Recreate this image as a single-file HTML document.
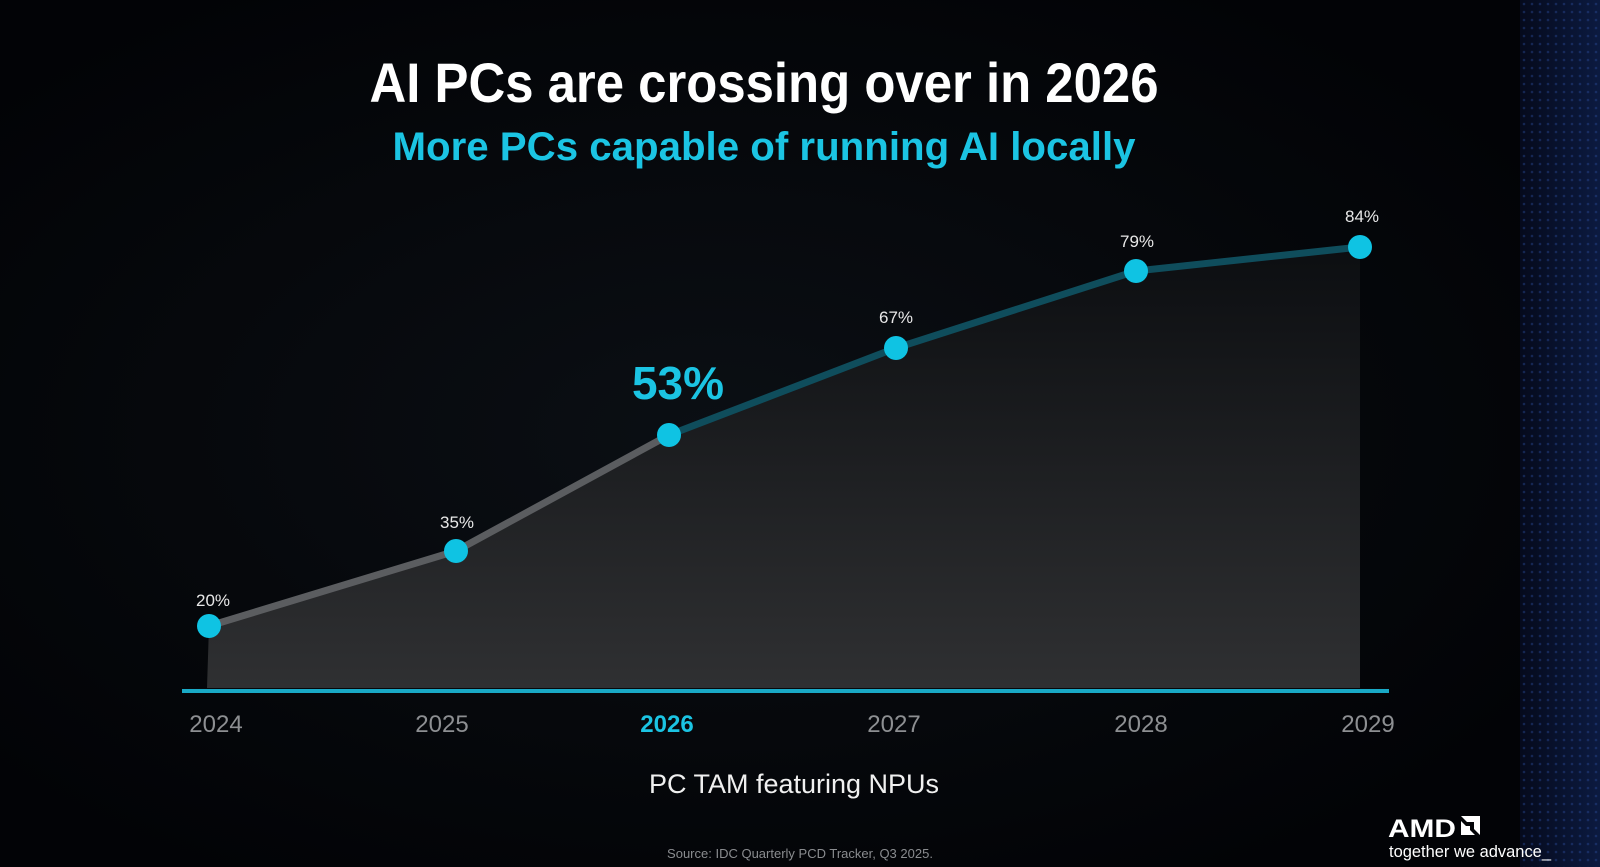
<!DOCTYPE html>
<html><head><meta charset="utf-8"><style>
html,body{margin:0;padding:0;background:#020306;width:1600px;height:867px;overflow:hidden}
svg{display:block}
text{font-family:"Liberation Sans",sans-serif}
</style></head><body>
<svg width="1600" height="867" viewBox="0 0 1600 867">
<defs>
<radialGradient id="bg" cx="0.45" cy="0.5" r="0.6">
<stop offset="0" stop-color="#0b0f14"/><stop offset="1" stop-color="#020306"/>
</radialGradient>
<linearGradient id="fill" x1="0" y1="247" x2="0" y2="688" gradientUnits="userSpaceOnUse">
<stop offset="0" stop-color="#0c0e11"/><stop offset="1" stop-color="#2f3032"/>
</linearGradient>
<linearGradient id="side" x1="0" y1="0" x2="1" y2="0">
<stop offset="0" stop-color="#050a1c"/><stop offset="1" stop-color="#0c1a40"/>
</linearGradient>
<pattern id="dots" width="8" height="8" patternUnits="userSpaceOnUse">
<circle cx="4" cy="4" r="1.3" fill="#2a4a9a" opacity="0.7"/>
</pattern>
</defs>
<rect width="1600" height="867" fill="url(#bg)"/>
<rect x="1520" y="0" width="80" height="867" fill="url(#side)"/>
<rect x="1520" y="0" width="80" height="867" fill="url(#dots)" opacity="0.6"/>
<text x="764" y="102" text-anchor="middle" font-size="56" font-weight="bold" fill="#fff" textLength="789" lengthAdjust="spacingAndGlyphs">AI PCs are crossing over in 2026</text>
<text x="764" y="160" text-anchor="middle" font-size="40" font-weight="bold" fill="#1bc4e3" textLength="743" lengthAdjust="spacingAndGlyphs">More PCs capable of running AI locally</text>
<polygon points="209,626 456,551 669,435 896,348 1136,271 1360,247 1360,688 207,688" fill="url(#fill)"/>
<polyline points="209,626 456,551 669,435" fill="none" stroke="#5b5d60" stroke-width="7"/>
<polyline points="669,435 896,348 1136,271 1360,247" fill="none" stroke="#0f4d5c" stroke-width="7"/>
<line x1="182" y1="691" x2="1389" y2="691" stroke="#19a9c6" stroke-width="4"/>
<g fill="#0fc3e3">
<circle cx="209" cy="626" r="12"/><circle cx="456" cy="551" r="12"/><circle cx="669" cy="435" r="12"/>
<circle cx="896" cy="348" r="12"/><circle cx="1136" cy="271" r="12"/><circle cx="1360" cy="247" r="12"/>
</g>
<g font-size="17" fill="#e8e8e8" text-anchor="middle">
<text x="213" y="606">20%</text><text x="457" y="528">35%</text>
<text x="896" y="323">67%</text><text x="1137" y="247">79%</text><text x="1362" y="222">84%</text>
</g>
<text x="678" y="399" text-anchor="middle" font-size="46" font-weight="bold" fill="#1bc4e3">53%</text>
<g font-size="24" fill="#8d8f92" text-anchor="middle">
<text x="216" y="732">2024</text><text x="442" y="732">2025</text>
<text x="667" y="732" fill="#1bc4e3" font-weight="bold">2026</text>
<text x="894" y="732">2027</text><text x="1141" y="732">2028</text><text x="1368" y="732">2029</text>
</g>
<text x="794" y="793" text-anchor="middle" font-size="27" fill="#f0f0f0">PC TAM featuring NPUs</text>
<text x="800" y="858" text-anchor="middle" font-size="13" fill="#8a8c8f">Source: IDC Quarterly PCD Tracker, Q3 2025.</text>
<text x="1388" y="837" font-size="25" font-weight="bold" fill="#fff" textLength="68" lengthAdjust="spacingAndGlyphs">AMD</text>
<path d="M1461,816 h19 v19 l-6,-6 v-7 h-7 z M1461,821 l5,5 h4 v4 l5,5 h-14 z" fill="#fff"/>
<text x="1389" y="857" font-size="17" fill="#fff" textLength="162" lengthAdjust="spacingAndGlyphs">together we advance_</text>
</svg>
</body></html>
